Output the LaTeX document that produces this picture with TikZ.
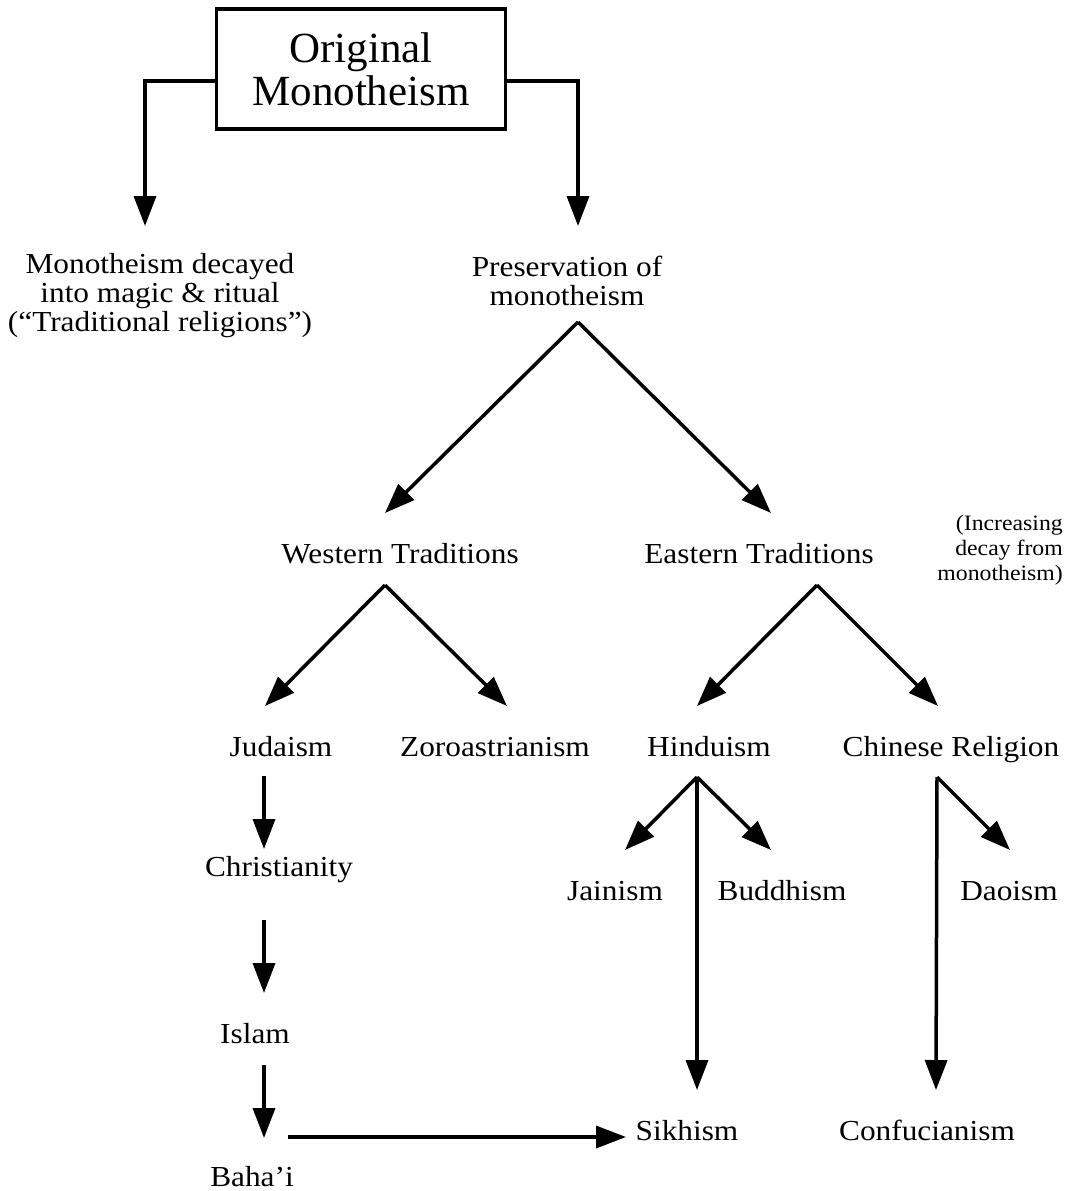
\documentclass[tikz,border=0pt]{standalone}
\usepackage{fontspec}
\setmainfont{Liberation Serif}[FakeStretch=1.08]
\newfontfamily\titlefont{Liberation Serif}
\usetikzlibrary{arrows.meta,calc}
\tikzstyle{lbl}=[inner sep=0pt, text height=20pt, text depth=0pt, font=\fontsize{29}{29}\selectfont]
\tikzstyle{lbls}=[inner sep=0pt, align=center, font=\fontsize{29}{29}\selectfont]
\tikzstyle{note}=[inner sep=0pt, align=right, font=\fontsize{22}{25}\selectfont]
\tikzstyle{titlebox}=[draw=black, line width=3.5pt, minimum width=289pt, minimum height=120pt, align=center, font=\titlefont\fontsize{43}{43}\selectfont]
\tikzstyle{arr}=[line width=3.5pt, -{Triangle[length=30pt,width=22pt]}]

\begin{document}
\begin{tikzpicture}[x=1pt, y=-1pt]
        \useasboundingbox (0,0) rectangle (1065,1191);
        %
        \node at (361,69) [titlebox] (orig) {Original\\Monotheism};
        \node at (160,296) [lbls] (dec) {Monotheism decayed\\into magic \& ritual\\(``Traditional religions'')};
        \node at (567,281) [lbls] (pres) {Preservation of\\monotheism};
        % traditions
        \node at (400,553) [lbl] (west) {Western Traditions};
        \node at (759,553) [lbl] (east) {Eastern Traditions};
        \node at (1063,550) [note, anchor=east] (decay) {(Increasing\\decay from\\monotheism)};
        \node at (281,746) [lbl] (jud) {Judaism};
        \node at (495,746) [lbl] (zor) {Zoroastrianism};
        \node at (709,746) [lbl] (hin) {Hinduism};
        \node at (951,746) [lbl] (chi) {Chinese Religion};
        \node at (279,866) [lbl] (chr) {Christianity};
        \node at (255,1033) [lbl] (isl) {Islam};
        \node at (252,1176) [lbl] (bah) {Baha'i};
        \node at (615,890) [lbl] (jai) {Jainism};
        \node at (782,890) [lbl] (bud) {Buddhism};
        \node at (1009,890) [lbl] (dao) {Daoism};
        \node at (687,1130) [lbl] (sik) {Sikhism};
        \node at (927,1130) [lbl] (con) {Confucianism};
        %
        \draw[arr] ([yshift=-12pt]orig.west) -| ($(dec)+(-15,-70)$);
        \draw[arr] ([yshift=-12pt]orig.east) -| ($(pres)+(11,-55)$);
        \draw[arr] ($(pres)+(11,41)$) -- ($(west)+(-15,-40)$);
        \draw[arr] ($(pres)+(11,41)$) -- ($(east)+(12,-40)$);
        \draw[arr] ($(west)+(-15,32)$) -- ($(jud)+(-16,-40)$);
        \draw[arr] ($(west)+(-15,32)$) -- ($(zor)+(12,-40)$);
        \draw[arr] ($(east)+(58,32)$) -- ($(hin)+(-12,-40)$);
        \draw[arr] ($(east)+(58,32)$) -- ($(chi)+(-13,-40)$);
        % western line
        \draw[arr] ($(jud)+(-17,30)$) -- ($(chr)+(-15,-17)$);
        \draw[arr] ($(chr)+(-15,54)$) -- ($(isl)+(9,-40)$);
        \draw[arr] ($(isl)+(9,32)$) -- ($(bah)+(12,-38)$);
        \draw[arr] ($(bah)+(36,-39)$) -- ($(sik)+(-61,7)$);
        % eastern line
        \draw[arr] ($(hin)+(-12,31)$) -- ($(jai)+(10,-40)$);
        \draw[arr] ($(hin)+(-12,31)$) -- ($(bud)+(-11,-40)$);
        \draw[arr] ($(hin)+(-12,31)$) -- ($(sik)+(10,-40)$);
        \draw[arr] ($(chi)+(-14,31)$) -- ($(dao)+(1,-40)$);
        \draw[arr] ($(chi)+(-14,31)$) -- ($(con)+(9,-40)$);
        %
      \end{tikzpicture}
\end{document}
